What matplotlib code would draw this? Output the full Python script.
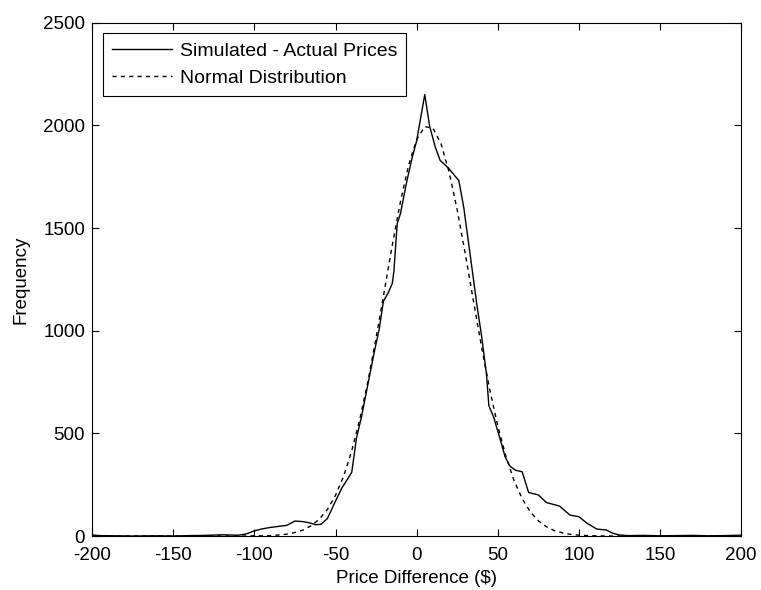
import matplotlib
matplotlib.use("Agg")
import matplotlib.pyplot as plt

plt.rcParams['font.family'] = ['Liberation Sans', 'DejaVu Sans']
plt.rcParams['axes.unicode_minus'] = False

# simulated minus actual prices (histogram counts)
sim_x = [-200, -195, -185, -175, -160, -150, -140, -130, -120, -110, -105,
         -100, -95, -90, -85, -80, -75, -70, -66, -62, -59, -55, -50, -46,
         -43, -40, -37, -34, -30, -26, -23, -20.5, -17.5, -15, -14, -12, -10,
         -6, -3, 0, 5, 8, 11.5, 14.5, 19.5, 26, 29, 34, 37, 40, 43, 44.5, 47.5,
         51.5, 54.5, 57.5, 61, 65, 69, 75, 80, 88, 94.5, 100, 105, 111, 117,
         121, 125, 130, 140, 150, 160, 170, 180, 190, 200]
sim_y = [5, 2, 1, 0, 1, 0, 2, 3, 6, 4, 10,
         25, 35, 42, 47, 52, 73, 70, 64, 55, 57, 85, 170, 235,
         272, 310, 480, 580, 740, 900, 1010, 1143, 1185, 1230, 1290, 1521, 1570,
         1730, 1835, 1925, 2150, 1996, 1894, 1829, 1793, 1731, 1602, 1310, 1132, 975, 790, 635, 578,
         470, 386, 340, 320, 313, 212, 200, 163, 146, 102, 94, 62, 34, 29,
         13, 5, 2, 3, 1, 2, 3, 1, 2, 4]

# fitted normal curve
norm_x = [-200, -105, -100, -95, -90, -85, -80, -75, -70, -65, -60, -55, -50,
          -45, -40, -35, -30, -25, -20, -15, -10, -5, 0, 5, 10, 15, 20, 25,
          30, 35, 40, 45, 50, 55, 60, 65, 70, 75, 80, 85, 90, 95, 100, 105,
          110, 115, 120, 200]
norm_y = [0, 0, 1, 1, 2, 5, 9, 17, 29, 50, 82, 129, 198,
          291, 415, 570, 754, 965, 1190, 1417, 1628, 1805, 1931, 1994, 1987, 1911, 1773, 1588,
          1372, 1145, 921, 715, 536, 388, 270, 182, 118, 74, 45, 26, 15, 8, 4, 2,
          1, 0, 0, 0]

fig = plt.figure(figsize=(7.61, 5.90), dpi=100)
ax = fig.add_axes([0.121, 0.0915, 0.853, 0.870])

ax.plot(sim_x, sim_y, color='black', linewidth=1.0, label='Simulated - Actual Prices')
ax.plot(norm_x, norm_y, color='black', linewidth=1.0, linestyle=(0, (3, 3)),
        label='Normal Distribution')

ax.set_xlim(-200, 200)
ax.set_ylim(0, 2500)
ax.set_xticks(range(-200, 201, 50))
ax.set_yticks(range(0, 2501, 500))
ax.tick_params(direction='in', top=True, right=True, length=5, width=0.8,
               labelsize=13.5)
ax.tick_params(axis='x', pad=8)
ax.tick_params(axis='y', pad=5)
for s in ax.spines.values():
    s.set_linewidth(0.8)

ax.set_xlabel('Price Difference ($)', fontsize=13.5, labelpad=4)
ax.set_ylabel('Frequency', fontsize=13.5, labelpad=10)

leg = ax.legend(loc='upper left', fontsize=14, fancybox=False, framealpha=1,
                edgecolor='black', handlelength=3.1, borderaxespad=0.55,
                borderpad=0.45, labelspacing=0.5, handletextpad=0.4)
leg.get_frame().set_linewidth(0.8)

fig.savefig('out.png', dpi=100)
